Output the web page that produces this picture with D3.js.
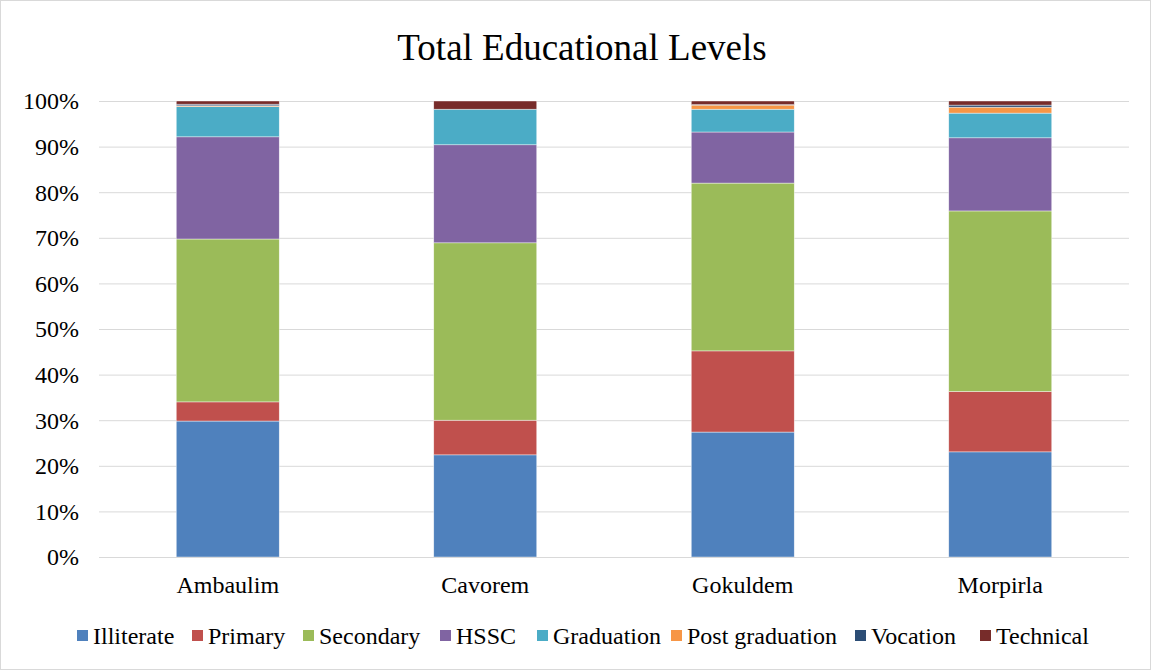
<!DOCTYPE html>
<html><head><meta charset="utf-8">
<script src="https://cdn.jsdelivr.net/npm/d3@7"></script>
<style>body{margin:0;background:#fff}svg{display:block}text{font-family:"Liberation Serif","Times New Roman",serif;fill:#000}</style>
</head><body><svg id="c" width="1151" height="670"></svg>
<script>
const categories = ["Ambaulim","Cavorem","Gokuldem","Morpirla"];
const seriesNames = ["Illiterate","Primary","Secondary","HSSC","Graduation","Post graduation","Vocation","Technical"];
const illiterate = [29.8, 22.4, 27.4, 23.0];
const primary = [4.2, 7.6, 17.8, 13.2];
const secondary = [35.7, 38.9, 36.8, 39.5];
const hssc = [22.4, 21.5, 11.2, 16.0];
const graduation = [6.6, 7.8, 5.0, 5.4];
const postGraduation = [0.2, 0.0, 0.9, 1.3];
const vocation = [0.35, 0.0, 0.1, 0.45];
const technical = [0.7, 1.8, 0.8, 0.9];
const yTicks = [0,0.1,0.2,0.3,0.4,0.5,0.6,0.7,0.8,0.9,1.0];
const colors = ["#4F81BD","#C0504D","#9BBB59","#8064A2","#4BACC6","#F79646","#2C4D75","#772C2A"];

const seriesVals = [illiterate, primary, secondary, hssc, graduation, postGraduation, vocation, technical];
const rows = categories.map((c,i)=>{const o={cat:c}; seriesNames.forEach((s,j)=>o[s]=seriesVals[j][i]); return o;});
const stack = d3.stack().keys(seriesNames).offset(d3.stackOffsetExpand)(rows);

const svg = d3.select("#c");
svg.append("rect").attr("x",0.5).attr("y",0.5).attr("width",1150).attr("height",669).attr("fill","#fff").attr("stroke","#d9d9d9");

const x = d3.scaleBand().domain(categories).range([99,1129]).paddingInner(0.6).paddingOuter(0.3);
const y = d3.scaleLinear().domain([0,1]).range([557,101]);

svg.append("g").selectAll("line").data(yTicks).join("line")
  .attr("x1",99).attr("x2",1129).attr("y1",d=>y(d)+0.5).attr("y2",d=>y(d)+0.5)
  .attr("stroke","#d9d9d9").attr("stroke-width",1);

svg.append("g").selectAll("text").data(yTicks).join("text")
  .attr("x",79).attr("y",d=>y(d)).attr("dy","0.35em").attr("text-anchor","end")
  .attr("font-size",24).text(d=>d3.format(".0%")(d));

const g = svg.append("g");
stack.forEach((s,k)=>{
  g.append("g").attr("fill",colors[k]).selectAll("rect").data(s).join("rect")
    .attr("x",d=>x(d.data.cat)).attr("width",x.bandwidth())
    .attr("y",d=>y(d[1])).attr("height",d=>Math.max(0,y(d[0])-y(d[1])))
    .attr("stroke","#fff").attr("stroke-width",0.6).attr("stroke-opacity",0.7);
});

svg.append("line").attr("x1",99).attr("x2",1129).attr("y1",557.5).attr("y2",557.5).attr("stroke","#d9d9d9");

svg.append("g").selectAll("text").data(categories).join("text")
  .attr("x",d=>x(d)+x.bandwidth()/2).attr("y",593).attr("text-anchor","middle")
  .attr("font-size",24).text(d=>d);

svg.append("text").attr("x",582).attr("y",60).attr("text-anchor","middle").attr("font-size",37).text("Total Educational Levels");

// legend
const leg = svg.append("g");
const legX = [77,192,303,440,537,671,855,980];
seriesNames.forEach((s,i)=>{
  leg.append("rect").attr("x",legX[i]).attr("y",630).attr("width",11).attr("height",11).attr("fill",colors[i]);
  leg.append("text").attr("x",legX[i]+16).attr("y",644).attr("font-size",24).text(s);
});
</script></body></html>
